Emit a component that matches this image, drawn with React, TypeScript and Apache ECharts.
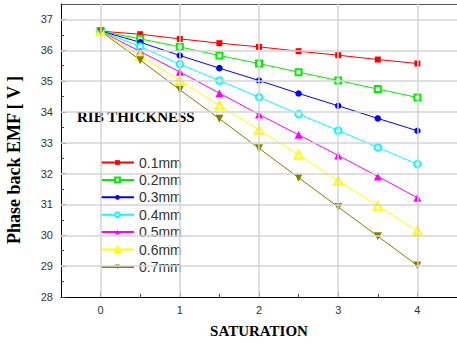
import React, { useEffect, useRef } from "react";
import * as echarts from "echarts";

const saturation = [0, 0.5, 1, 1.5, 2, 2.5, 3, 3.5, 4];
const emf01 = [36.62, 36.52, 36.37, 36.23, 36.11, 35.97, 35.84, 35.7, 35.57];
const emf02 = [36.62, 36.37, 36.11, 35.83, 35.57, 35.29, 35.02, 34.74, 34.47];
const emf03 = [36.62, 36.26, 35.83, 35.42, 35.02, 34.6, 34.2, 33.79, 33.39];
const emf04 = [36.62, 36.12, 35.55, 35.02, 34.48, 33.93, 33.4, 32.85, 32.31];
const emf05 = [36.62, 35.96, 35.3, 34.61, 33.92, 33.26, 32.59, 31.91, 31.22];
const emf06 = [36.62, 35.83, 35.03, 34.21, 33.42, 32.61, 31.77, 30.96, 30.14];
const emf07 = [36.62, 35.68, 34.72, 33.78, 32.82, 31.87, 30.92, 29.97, 29.02];

const seriesNames = ["0.1mm", "0.2mm", "0.3mm", "0.4mm", "0.5mm", "0.6mm", "0.7mm"];
const seriesValues = [emf01, emf02, emf03, emf04, emf05, emf06, emf07];

const xMajorTicks = [0, 1, 2, 3, 4];
const xMinorTicks = [0.5, 1.5, 2.5, 3.5];
const yMajorTicks = [28, 29, 30, 31, 32, 33, 34, 35, 36, 37];
const yMinorTicks = [28.5, 29.5, 30.5, 31.5, 32.5, 33.5, 34.5, 35.5, 36.5];

const styles = [
  { color: "#ff0000", symbol: "rect", size: 6, rotate: 0 },
  { color: "#00ee00", symbol: "emptyRect", size: 6, rotate: 0 },
  { color: "#0000ff", symbol: "circle", size: 6.5, rotate: 0 },
  { color: "#00ffff", symbol: "emptyCircle", size: 6.5, rotate: 0 },
  { color: "#ff00ff", symbol: "triangle", size: 8, rotate: 0 },
  { color: "#ffff00", symbol: "emptyTriangle", size: 8, rotate: 0 },
  { color: "#808000", symbol: "triangle", size: 8, rotate: 180 },
];

export default function App() {
  const ref = useRef<HTMLDivElement>(null);
  useEffect(() => {
    if (!ref.current) return;
    const chart = echarts.init(ref.current, undefined, { renderer: "svg" });
    const tickFont = { fontFamily: "Liberation Sans", fontSize: 11, color: "#333" };
    const base = { type: "value", onZero: false };
    chart.setOption({
      animation: false,
      backgroundColor: "#fff",
      grid: { left: 61, top: 4, width: 399, height: 294 },
      legend: {
        orient: "vertical",
        left: 100,
        top: 154,
        padding: 0,
        itemWidth: 33,
        itemHeight: 6,
        itemGap: 0.4,
        textStyle: { fontFamily: "Liberation Sans", fontSize: 14, color: "#333", lineHeight: 17 },
        data: seriesNames,
      },
      xAxis: [
        {
          ...base,
          min: -0.5,
          max: 4.5,
          position: "bottom",
          name: "SATURATION",
          nameLocation: "middle",
          nameGap: 26,
          nameTextStyle: { fontFamily: "Liberation Serif", fontWeight: "bold", fontSize: 15, color: "#000" },
          axisLine: { show: true, onZero: false, lineStyle: { color: "#000", width: 1 } },
          axisTick: { show: true, inside: true, length: 5, customValues: xMajorTicks, lineStyle: { color: "#444" } },
          axisLabel: { ...tickFont, margin: 7, customValues: xMajorTicks },
          splitLine: { show: false },
        },
        {
          ...base,
          min: -0.5,
          max: 4.5,
          position: "bottom",
          axisLine: { show: false, onZero: false },
          axisTick: { show: true, inside: true, length: 3, customValues: xMinorTicks, lineStyle: { color: "#444" } },
          axisLabel: { show: false },
          splitLine: { show: false },
        },
        {
          ...base,
          min: -0.5,
          max: 4.5,
          position: "top",
          axisLine: { show: true, onZero: false, lineStyle: { color: "#555", width: 1.2 } },
          axisTick: { show: false },
          axisLabel: { show: false },
          splitLine: { show: false },
        },
      ],
      yAxis: [
        {
          ...base,
          min: 28,
          max: 37.5,
          position: "left",
          axisLine: { show: true, onZero: false, lineStyle: { color: "#000", width: 1 } },
          axisTick: { show: true, inside: true, length: 5, customValues: yMajorTicks, lineStyle: { color: "#444" } },
          axisLabel: { ...tickFont, margin: 8, customValues: yMajorTicks },
          splitLine: { show: false },
        },
        {
          ...base,
          min: 28,
          max: 37.5,
          position: "left",
          axisLine: { show: false, onZero: false },
          axisTick: { show: true, inside: true, length: 3, customValues: yMinorTicks, lineStyle: { color: "#444" } },
          axisLabel: { show: false },
          splitLine: { show: false },
        },
      ],
      graphic: [
        {
          type: "text",
          x: 14,
          y: 160,
          rotation: Math.PI / 2,
          style: {
            text: "Phase back EMF [ V ]",
            font: 'bold 18px "Liberation Serif"',
            fill: "#000",
            align: "center",
            verticalAlign: "middle",
          },
        },
        {
          type: "text",
          x: 77,
          y: 117,
          style: {
            text: "RIB THICKNESS",
            font: 'bold 15px "Liberation Serif"',
            fill: "#000",
            align: "left",
            verticalAlign: "middle",
          },
        },
      ],
      series: [
        {
          name: "grid",
          type: "line",
          data: [],
          z: 0,
          silent: true,
          markLine: {
            silent: true,
            symbol: "none",
            label: { show: false },
            lineStyle: { color: "#d4d4d4", width: 1.5, type: "solid" },
            data: [
              ...xMajorTicks.map((v) => ({ xAxis: v })),
              ...yMajorTicks.slice(1).map((v) => ({ yAxis: v })),
            ],
          },
        },
        ...seriesNames.map((name, i) => ({
          name,
          type: "line",
          z: 3,
          data: saturation.map((x, j) => [x, seriesValues[i][j]]),
          symbol: styles[i].symbol,
          symbolSize: styles[i].size,
          symbolRotate: styles[i].rotate,
          showAllSymbol: true,
          color: styles[i].color,
          lineStyle: { color: styles[i].color, width: 1 },
          itemStyle: { color: styles[i].color },
        })),
      ],
    });
    return () => chart.dispose();
  }, []);
  return (
    <div
      ref={ref}
      style={{ position: "fixed", left: 0, top: 0, width: 457, height: 343, overflow: "hidden" }}
    />
  );
}
